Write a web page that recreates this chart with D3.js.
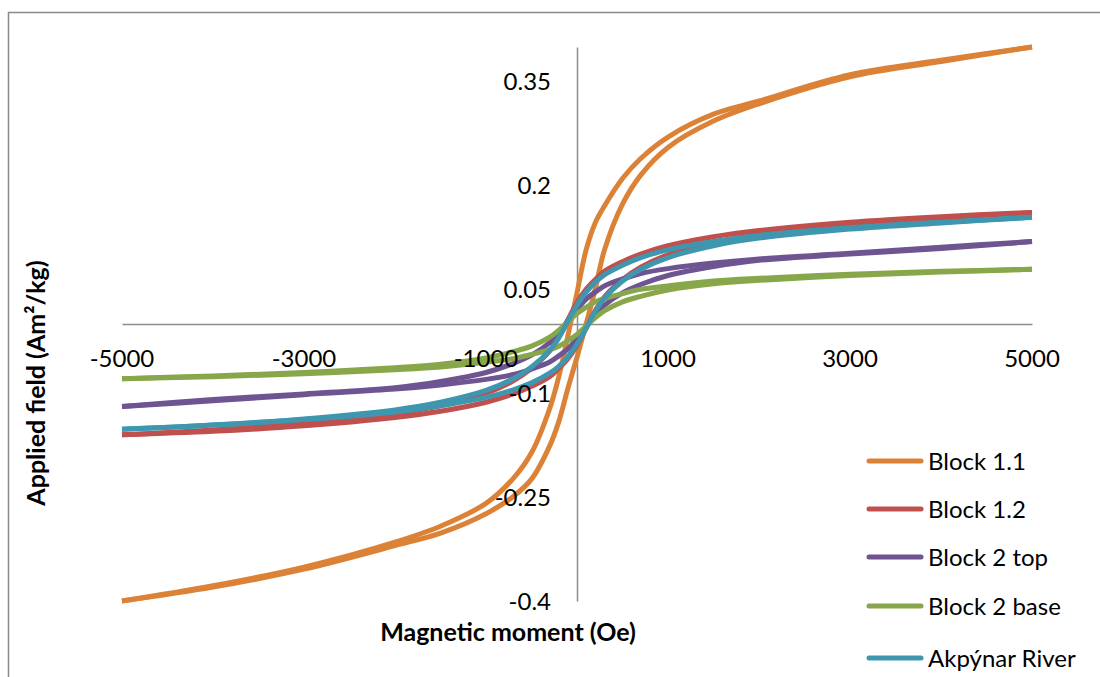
<!DOCTYPE html>
<html>
<head>
<meta charset="utf-8">
<script src="https://cdn.jsdelivr.net/npm/d3@7"></script>
<style>
  html, body { margin: 0; padding: 0; background: #fff; }
  svg { display: block; }
  text { font-family: Lato, "Open Sans", sans-serif; fill: #000; }
</style>
</head>
<body>
<svg id="chart" width="1100" height="677"></svg>
<script>
// ---- data ----
const fieldGrid = [-5000,-4000,-3000,-2000,-1500,-1000,-700,-500,-300,-200,-100,0,100,200,300,500,700,1000,1500,2000,3000,4000,5000];

const seriesNames = ["Block 1.1", "Block 1.2", "Block 2 top", "Block 2 base", "Akpýnar River"];

// descending branch (field from +5000 to -5000), listed in fieldGrid order
const block11Upper = [-0.400,-0.378,-0.351,-0.315,-0.292,-0.259,-0.223,-0.186,-0.122,-0.076,-0.017,0.045,0.107,0.146,0.170,0.210,0.239,0.270,0.303,0.322,0.360,0.381,0.400];
// ascending branch (field from -5000 to +5000)
const block11Lower = [-0.400,-0.380,-0.354,-0.320,-0.302,-0.274,-0.249,-0.224,-0.176,-0.141,-0.093,-0.048,0.000,0.050,0.106,0.173,0.215,0.255,0.293,0.318,0.357,0.379,0.400];

const block12Upper = [-0.160,-0.153,-0.143,-0.129,-0.118,-0.100,-0.082,-0.064,-0.039,-0.019,0.006,0.031,0.050,0.064,0.076,0.090,0.101,0.113,0.126,0.135,0.147,0.155,0.161];
const block12Lower = [-0.160,-0.155,-0.147,-0.135,-0.126,-0.113,-0.101,-0.090,-0.076,-0.064,-0.050,-0.031,-0.006,0.019,0.039,0.064,0.082,0.100,0.118,0.129,0.143,0.153,0.161];

const block2TopUpper = [-0.119,-0.109,-0.101,-0.092,-0.083,-0.070,-0.057,-0.045,-0.027,-0.013,0.005,0.021,0.036,0.046,0.055,0.065,0.073,0.080,0.088,0.094,0.102,0.111,0.119];
const block2TopLower = [-0.119,-0.111,-0.102,-0.094,-0.088,-0.080,-0.073,-0.065,-0.055,-0.046,-0.036,-0.021,-0.005,0.013,0.027,0.045,0.057,0.070,0.083,0.092,0.101,0.109,0.119];

const block2BaseUpper = [-0.079,-0.075,-0.070,-0.063,-0.058,-0.049,-0.040,-0.032,-0.019,-0.009,0.003,0.015,0.024,0.032,0.037,0.044,0.050,0.055,0.062,0.066,0.072,0.076,0.079];
const block2BaseLower = [-0.079,-0.076,-0.072,-0.066,-0.062,-0.055,-0.050,-0.044,-0.037,-0.032,-0.024,-0.015,-0.003,0.009,0.019,0.032,0.040,0.049,0.058,0.063,0.070,0.075,0.079];

const riverUpper = [-0.152,-0.146,-0.137,-0.124,-0.113,-0.096,-0.079,-0.062,-0.038,-0.020,0.004,0.027,0.046,0.060,0.071,0.085,0.096,0.107,0.119,0.128,0.139,0.147,0.154];
const riverLower = [-0.152,-0.146,-0.138,-0.127,-0.118,-0.106,-0.095,-0.085,-0.071,-0.061,-0.047,-0.029,-0.006,0.018,0.037,0.062,0.079,0.096,0.113,0.124,0.137,0.146,0.154];

const xTicks = [-5000,-3000,-1000,1000,3000,5000];
const yTicks = [-0.4,-0.25,-0.1,0.05,0.2,0.35];
const xTickLabels = ["-5000","-3000","-1000","1000","3000","5000"];
const yTickLabels = ["-0.4","-0.25","-0.1","0.05","0.2","0.35"];

const seriesColors = ["#DC8237", "#C0504D", "#6E5592", "#88A64A", "#3E97AF"];

// ---- build ----
const upperBranches = [block11Upper, block12Upper, block2TopUpper, block2BaseUpper, riverUpper];
const lowerBranches = [block11Lower, block12Lower, block2TopLower, block2BaseLower, riverLower];
const series = seriesNames.map((name, i) => ({
  name,
  color: seriesColors[i],
  upper: fieldGrid.map((h, j) => [h, upperBranches[i][j]]),
  lower: fieldGrid.map((h, j) => [h, lowerBranches[i][j]])
}));

const svg = d3.select("#chart");

// chart frame
svg.append("rect")
  .attr("x", 8.5).attr("y", 12.5)
  .attr("width", 1200).attr("height", 800)
  .attr("fill", "none").attr("stroke", "#898989").attr("stroke-width", 1.5);

const x = d3.scaleLinear().domain([-5000, 5000]).range([122, 1032]);
const y = d3.scaleLinear().domain([-0.4, 0.4]).range([601, 47]);

// axes lines
const gx = svg.append("g").attr("transform", `translate(0,${y(0)})`)
  .call(d3.axisBottom(x).tickValues([]).tickSizeOuter(0));
gx.select(".domain").attr("stroke", "#8c8c8c").attr("stroke-width", 1.5);
const gy = svg.append("g").attr("transform", `translate(${x(0)},0)`)
  .call(d3.axisLeft(y).tickValues([]).tickSizeOuter(0));
gy.select(".domain").attr("stroke", "#8c8c8c").attr("stroke-width", 1.5);

// series
const line = d3.line().x(d => x(d[0])).y(d => y(d[1])).curve(d3.curveCatmullRom.alpha(0.5));
const gs = svg.append("g");
series.forEach(s => {
  [s.upper, s.lower].forEach(br => {
    gs.append("path")
      .attr("d", line(br))
      .attr("fill", "none")
      .attr("stroke", s.color)
      .attr("stroke-width", 5)
      .attr("stroke-linejoin", "round");
  });
});

// tick labels (drawn above the series, as in the original)
svg.append("g").selectAll("text").data(xTicks).join("text")
  .attr("x", d => x(d))
  .attr("y", y(0) + 43)
  .attr("text-anchor", "middle")
  .attr("font-size", 24)
  .text((d, i) => xTickLabels[i]);

svg.append("g").selectAll("text").data(yTicks).join("text")
  .attr("x", 551)
  .attr("y", d => y(d) + 8.5)
  .attr("text-anchor", "end")
  .attr("font-size", 24)
  .text((d, i) => yTickLabels[i]);

// axis titles
svg.append("text")
  .attr("x", 508).attr("y", 641)
  .attr("text-anchor", "middle")
  .attr("font-size", 25).attr("font-weight", "bold")
  .text("Magnetic moment (Oe)");

svg.append("text")
  .attr("transform", "translate(45,383) rotate(-90)")
  .attr("text-anchor", "middle")
  .attr("font-size", 25).attr("font-weight", "bold")
  .text("Applied field (Am²/kg)");

// legend
const legend = svg.append("g");
const legendY = [461, 509, 557, 606, 658];
series.forEach((s, i) => {
  const g = legend.append("g").attr("transform", `translate(0,${legendY[i]})`);
  g.append("line")
    .attr("x1", 869).attr("x2", 921)
    .attr("stroke", s.color).attr("stroke-width", 5)
    .attr("stroke-linecap", "round");
  g.append("text")
    .attr("x", 928).attr("y", 8.5)
    .attr("font-size", 24)
    .text(s.name);
});
</script>
</body>
</html>
